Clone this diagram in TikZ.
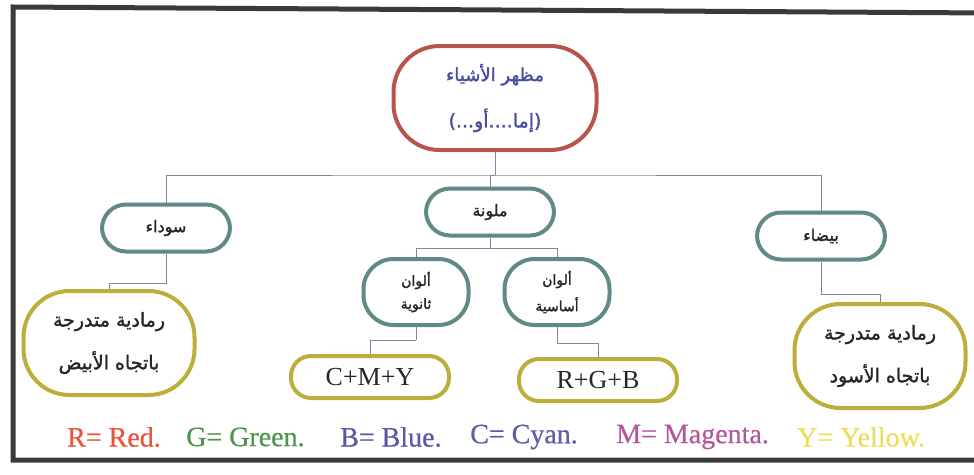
\documentclass[tikz,border=0pt]{standalone}
\usepackage{fontspec}
\TeXXeTstate=1
\newfontfamily\arabicfont[Script=Arabic,FakeBold=1.6]{DejaVu Sans}
\newfontfamily\legendfont[FakeBold=0.6]{Liberation Serif}
\setmainfont{Liberation Serif}

\definecolor{framegray}{HTML}{3A3A3A}
\definecolor{topred}{HTML}{B8544C}
\definecolor{tealgray}{HTML}{5F8A86}
\definecolor{olive}{HTML}{BCAE3A}
\definecolor{wire}{HTML}{8E7FA0}
\definecolor{titleblue}{HTML}{4A4E9E}
\definecolor{lred}{HTML}{E8533A}
\definecolor{lgreen}{HTML}{4F9350}
\definecolor{lblue}{HTML}{5559A6}
\definecolor{lcyan}{HTML}{5A60A8}
\definecolor{lmagenta}{HTML}{B0589A}
\definecolor{lyellow}{HTML}{EDDD5C}

\tikzset{
  pill/.style={draw, line width=4pt, fill=white, rounded corners=#1,
    inner sep=0pt, align=center, text=black!85},
  titlebox/.style={pill=46pt, draw=topred, minimum width=203pt, minimum height=104pt},
  catbox/.style={pill=24pt, draw=tealgray, minimum width=128pt, minimum height=47pt},
  subbox/.style={pill=30pt, draw=tealgray, minimum width=105pt, minimum height=66pt},
  graybox/.style={pill=46pt, draw=olive, minimum width=171pt, minimum height=104pt},
  mixbox/.style={pill=20pt, draw=olive, minimum width=158pt, minimum height=42pt},
  wireline/.style={draw=wire, line width=1pt},
  legend/.style={font=\legendfont\fontsize{28}{30}\selectfont, anchor=west, inner sep=0pt}
}

% Arabic font at a given size
\newcommand{\arsize}[1]{\fontsize{#1}{#1}\arabicfont}

\begin{document}
\begin{tikzpicture}[x=1pt, y=-1pt]
\useasboundingbox (0,0) rectangle (974,474);
\begin{scope}
\clip (0,0) rectangle (974,474);
% outer frame (right side runs off the page)
\draw[framegray, line width=5pt] (990,13) -- (13,7) -- (13,460) -- (990,460);
\end{scope}

% nodes
\node[titlebox, text=titleblue] (top) at (495,98)
  {{\arsize{18}\beginR مظهر الأشياء\endR}\\[22pt]
   {\arsize{19}\beginR (إما....أو...)\endR}};

\node[catbox] (black) at (166,228) {\arsize{16}\beginR سوداء\endR};
\node[catbox] (color) at (490,212) {\arsize{16}\beginR ملونة\endR};
\node[catbox] (white) at (821,236) {\arsize{16}\beginR بيضاء\endR};

\node[graybox] (gw) at (109,343)
  {{\arsize{19}\beginR رمادية متدرجة\endR}\\[19pt]
   {\arsize{19}\beginR باتجاه الأبيض\endR}};
\node[graybox] (gb) at (880,356)
  {{\arsize{19}\beginR رمادية متدرجة\endR}\\[19pt]
   {\arsize{19}\beginR باتجاه الأسود\endR}};

\node[subbox] (sec) at (416,292)
  {{\arsize{14}\beginR ألوان\endR}\\[8pt] {\arsize{14}\beginR ثانوية\endR}};
\node[subbox] (pri) at (557,292)
  {{\arsize{14}\beginR ألوان\endR}\\[8pt] {\arsize{14}\beginR أساسية\endR}};

\node[mixbox] (cmy) at (370,377) {\fontsize{26}{28}\selectfont C+M+Y};
\node[mixbox] (rgb) at (598,380) {\fontsize{26}{28}\selectfont R+G+B};

% connectors
\draw[wireline] (top.south) -- ++(0,23) coordinate (hub);
\draw[wireline] (black.north) |- (hub) -| (white.north);
\draw[wireline] (hub) -| (color.north);

\draw[wireline] (color.south) -- ++(0,11) coordinate (chub);
\draw[wireline] (sec.north) |- (chub) -| (pri.north);

\draw[wireline] (black.south) -- ++(0,30) coordinate (bk);
\draw[wireline] (bk) -| (gw.north);
\draw[wireline] (white.south) -- ++(0,33) coordinate (wk);
\draw[wireline] (wk) -| (gb.north);

\draw[wireline] (sec.south) -- ++(0,13) coordinate (sk);
\draw[wireline] (sk) -| (cmy.north);
\draw[wireline] (pri.south) -- ++(0,16) coordinate (pk);
\draw[wireline] (pk) -| (rgb.north);

% legend
\node[legend, text=lred] (lr) at (67,437) {R= Red.};
\node[legend, text=lgreen] (lg) at (186,437) {G= Green.};
\node[legend, text=lblue] (lb) at (340,437) {B= Blue.};
\node[legend, text=lcyan] (lc) at (470,437) {C= Cyan.};
\node[legend, text=lmagenta] (lm) at (616,437) {M= Magenta.};
\node[legend, text=lyellow] (ly) at (797,437) {Y= Yellow.};
\end{tikzpicture}
\end{document}
